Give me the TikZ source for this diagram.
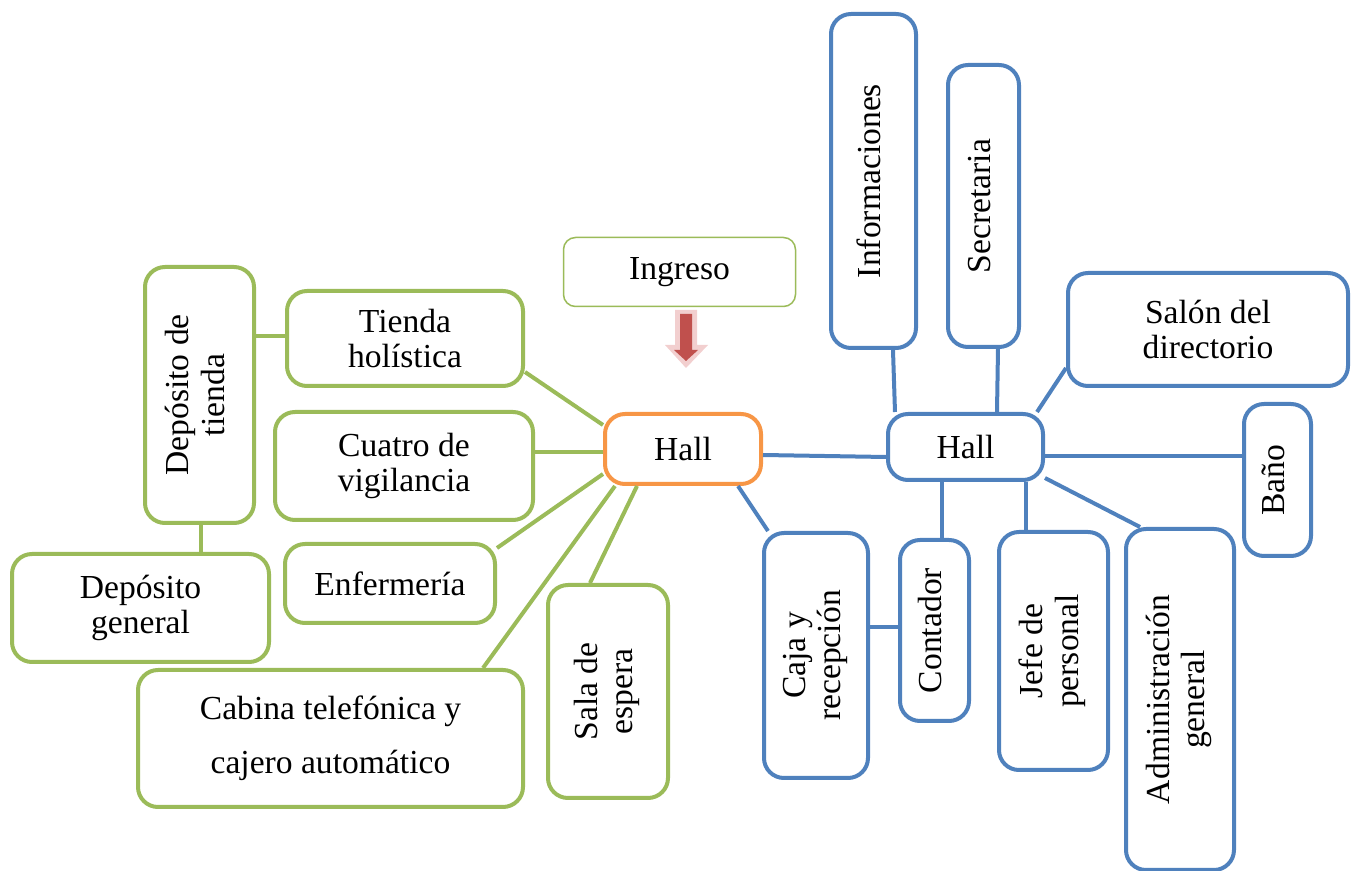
\documentclass[tikz,border=0pt]{standalone}
\usepackage{fontspec}
\usepackage{graphicx}
\setmainfont{Liberation Serif}
\definecolor{gr}{HTML}{9BBB59}
\definecolor{bl}{HTML}{4F81BD}
\definecolor{og}{HTML}{F79646}
\definecolor{ar}{HTML}{C0504D}
\definecolor{arl}{HTML}{F2CFCF}
\newcommand{\rt}[1]{\rotatebox{90}{\begin{tabular}{@{}c@{}}#1\end{tabular}}}
\begin{document}
\begin{tikzpicture}[x=0.5pt,y=-0.5pt,
  box/.style={draw, line width=2pt, rounded corners=10pt, fill=white, inner sep=0pt, align=center,
    font=\fontsize{16.8}{17.8}\selectfont},
  gbox/.style={box, draw=gr},
  bbox/.style={box, draw=bl},
  obox/.style={box, draw=og},
  glink/.style={draw=gr, line width=2pt},
  blink/.style={draw=bl, line width=2pt}]
\useasboundingbox (0,0) rectangle (1362,871);

% green side nodes
\node[gbox, minimum width=54.5pt, minimum height=128pt] (dtienda) at (199.5,395) {\rt{Depósito de\\tienda}};
\node[gbox, minimum width=118pt, minimum height=47.5pt] (tienda) at (405,338.5) {Tienda\\holística};
\node[gbox, minimum width=129pt, minimum height=54pt] (cuatro) at (404,466) {Cuatro de\\vigilancia};
\node[gbox, minimum width=105pt, minimum height=39.5pt] (enf) at (390,583.5) {Enfermería};
\node[gbox, minimum width=128.5pt, minimum height=54pt] (dgen) at (140.5,608) {Depósito\\general};
\node[gbox, minimum width=192.5pt, minimum height=68.5pt] (cabina) at (330.5,738.5) {Cabina telefónica y\\[9pt]cajero automático};
\node[gbox, minimum width=60pt, minimum height=106.5pt] (sala) at (608,691.5) {\rt{Sala de\\espera}};
\node[obox, minimum width=78pt, minimum height=35pt] (hallL) at (683,449) {Hall};
\node[gbox, line width=0.75pt, rounded corners=6pt, minimum width=116pt, minimum height=34.5pt] (ingreso) at (679.5,272) {Ingreso};

% blue side nodes
\node[bbox, minimum width=42.5pt, minimum height=167pt] (info) at (873.5,181) {\rt{Informaciones}};
\node[bbox, minimum width=35.5pt, minimum height=141pt] (secr) at (983.5,206) {\rt{Secretaria}};
\node[bbox, minimum width=140pt, minimum height=56.5pt] (salon) at (1208,329.5) {Salón del\\directorio};
\node[bbox, minimum width=77.5pt, minimum height=33pt] (hallR) at (965.5,447) {Hall};
\node[bbox, minimum width=33.5pt, minimum height=76pt] (bano) at (1277.5,480) {\rt{Baño}};
\node[bbox, minimum width=52pt, minimum height=122.5pt] (caja) at (816,655.5) {\rt{Caja y\\recepción}};
\node[bbox, minimum width=34.5pt, minimum height=90.5pt] (contador) at (934.5,630.5) {\rt{Contador}};
\node[bbox, minimum width=54.5pt, minimum height=119pt] (jefe) at (1053.5,651) {\rt{Jefe de\\personal}};
\node[bbox, minimum width=54pt, minimum height=170.5pt] (adm) at (1180,699.5) {\rt{Administración\\general}};

% green connectors
\draw[glink] (dtienda.east |- 0,336) -- (tienda.west |- 0,336);
\draw[glink] (dtienda.south -| 201,0) -- (dgen.north -| 201,0);
\draw[glink] (tienda.east |- 0,372) -- (hallL.west |- 0,425);
\draw[glink] (cuatro.east |- 0,452) -- (hallL.west |- 0,452);
\draw[glink] (enf.east |- 0,548) -- (hallL.west |- 0,474);
\draw[glink] (cabina.north -| 483,0) -- (hallL.south -| 615,0);
\draw[glink] (sala.north -| 590,0) -- (hallL.south -| 637,0);

% blue connectors
\draw[blink] (hallL.east |- 0,455) -- (hallR.west |- 0,457);
\draw[blink] (hallL.south -| 738,0) -- (caja.north -| 768,0);
\draw[blink] (caja.east |- 0,627) -- (contador.west |- 0,627);
\draw[blink] (info.south -| 893,0) -- (hallR.north -| 895,0);
\draw[blink] (secr.south -| 998,0) -- (hallR.north -| 997,0);
\draw[blink] (salon.west |- 0,368) -- (hallR.north -| 1037,0);
\draw[blink] (hallR.east |- 0,456) -- (bano.west |- 0,456);
\draw[blink] (hallR.south -| 942,0) -- (contador.north -| 942,0);
\draw[blink] (hallR.south -| 1026,0) -- (jefe.north -| 1026,0);
\draw[blink] (hallR.east |- 0,478) -- (adm.north -| 1140,0);

% entrance arrow
\fill[arl] (675,310) -- (697,310) -- (697,345) -- (708,345) -- (686,368) -- (665,345) -- (675,345) -- cycle;
\fill[ar] (680,314) -- (692,314) -- (692,350) -- (698,350) -- (686,361) -- (674,350) -- (680,350) -- cycle;
\end{tikzpicture}
\end{document}
